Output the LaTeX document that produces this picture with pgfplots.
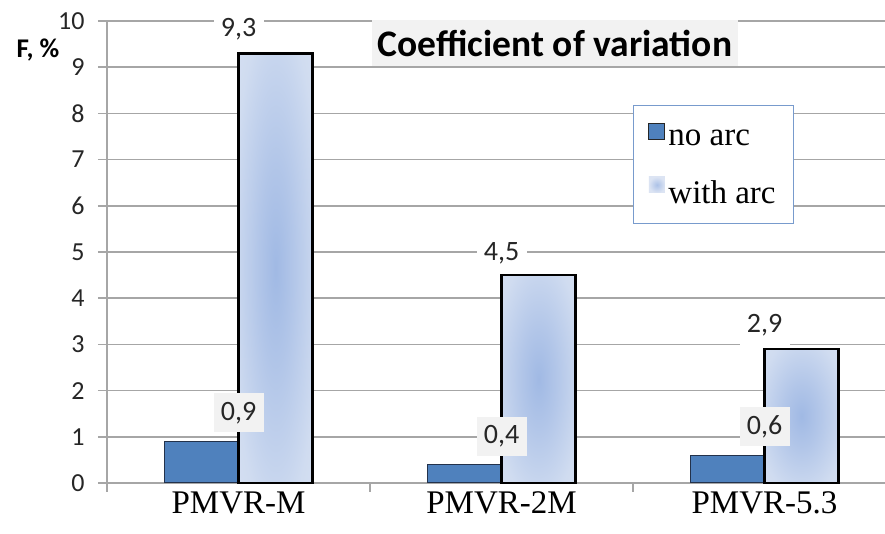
\documentclass[border=0pt]{standalone}
\usepackage{pgfplots}
\pgfplotsset{compat=1.18}
\usepackage{fontspec}
\setmainfont{Liberation Serif}
\newfontfamily\calibri{Carlito}
\definecolor{noarc}{RGB}{79,129,189}
\definecolor{noarcedge}{RGB}{35,50,75}
\definecolor{arcin}{RGB}{160,185,228}
\definecolor{arcmid}{RGB}{190,208,236}
\definecolor{arcout}{RGB}{220,228,243}
\definecolor{gridgray}{RGB}{166,166,166}
\definecolor{legblue}{RGB}{120,155,205}
\definecolor{labgray}{RGB}{242,242,242}
\pgfdeclareradialshading{barshade}{\pgfpoint{0bp}{0bp}}{color(0bp)=(arcin); color(12bp)=(arcin!70!arcout); color(30bp)=(arcmid!40!arcout); color(50bp)=(arcout); color(72bp)=(arcout!60!white)}
\begin{document}
\begin{tikzpicture}[x=1pt,y=1pt]
\useasboundingbox (0,0) rectangle (885,534);
\begin{axis}[
  at={(107pt,51pt)}, anchor=south west,
  scale only axis, width=778pt, height=462pt,
  xmin=-0.5, xmax=2.4582, ymin=0, ymax=10,
  axis x line=bottom, axis y line=left,
  axis line style={-, draw=gridgray, line width=1.5pt},
  ytick={0,1,...,10},
  yticklabel={\pgfmathprintnumber[assume math mode=true]{\tick}\hspace*{10pt}},
  ymajorgrids, grid style={draw=gridgray, line width=1.5pt},
  tick align=outside, major tick length=9pt,
  tick style={draw=gridgray, line width=1.5pt},
  /pgf/number format/assume math mode=true,
  yticklabel style={font=\calibri\fontsize{26}{26}\selectfont, text=black!85},
  xtick={-0.5,0.5,1.5},
  xticklabels={},
  extra x ticks={0,1,2},
  extra x tick labels={PMVR-M,PMVR-2M,PMVR-5.3},
  extra x tick style={grid=none, major tick length=0pt,
    xticklabel style={font=\fontsize{33}{33}\selectfont, text=black, yshift=-5pt}},
  clip=false,
  legend style={at={(0.676,0.818)}, anchor=north west, draw=legblue, line width=1pt,
    fill=white, font=\fontsize{33}{33}\selectfont, row sep=28pt,
    inner xsep=15pt, inner ysep=17pt,
    nodes={inner sep=3pt, text depth=0pt}},
  legend cell align=left,
  nodes near coords={\pgfmathprintnumber[fixed,precision=1,fixed zerofill,use comma,assume math mode=true]{\pgfplotspointmeta}},
]
% no arc
\addplot[ybar, bar width=74pt, bar shift=-37pt, fill=noarc, draw=noarcedge, line width=1pt, forget plot,
  every node near coord/.append style={font=\calibri\fontsize{28}{28}\selectfont, text=black!85,
    fill=labgray, draw=none, line width=0pt, minimum width=50pt, minimum height=39pt, inner sep=0pt, anchor=south, yshift=9pt}]
  coordinates {(0,0.9) (1,0.4) (2,0.6)};
% with arc
\addplot[ybar, bar width=74pt, bar shift=37pt, shading=barshade, draw=black, line width=2.5pt, forget plot,
  every node near coord/.append style={font=\calibri\fontsize{28}{28}\selectfont, text=black!85,
    fill=white, draw=none, minimum width=50pt, minimum height=39pt, inner sep=0pt, anchor=south, yshift=3pt}]
  coordinates {(0,9.3)};
\addplot[ybar, bar width=74pt, bar shift=37pt, shading=barshade, draw=black, line width=2.5pt, forget plot,
  every node near coord/.append style={font=\calibri\fontsize{28}{28}\selectfont, text=black!85,
    fill=white, draw=none, minimum width=50pt, minimum height=39pt, inner sep=0pt, anchor=south, yshift=1pt}]
  coordinates {(1,4.5)};
\addplot[ybar, bar width=74pt, bar shift=37pt, shading=barshade, draw=black, line width=2.5pt, forget plot,
  every node near coord/.append style={font=\calibri\fontsize{28}{28}\selectfont, text=black!85,
    fill=white, draw=none, minimum width=50pt, minimum height=39pt, inner sep=0pt, anchor=south, yshift=3pt}]
  coordinates {(2,2.9)};
\addlegendimage{legend image code/.code={\draw[fill=noarc, draw=black!85, line width=1pt] (0pt,-1pt) rectangle (16pt,15pt);}}
\addlegendentry{no arc}
\addlegendimage{legend image code/.code={\shade[inner color=arcin!80!arcout, outer color=arcout, draw=none] (0pt,-1pt) rectangle (16pt,15pt);}}
\addlegendentry{with arc}
\end{axis}
\node[fill=labgray, inner sep=0pt, minimum width=366pt, minimum height=46pt,
  font=\calibri\bfseries\fontsize{37.5}{37.5}\selectfont] at (555,490.5) {Coefficient of variation};
\node[font=\calibri\bfseries\fontsize{27}{27}\selectfont, anchor=center] at (38,484) {F, \%};
\end{tikzpicture}
\end{document}
